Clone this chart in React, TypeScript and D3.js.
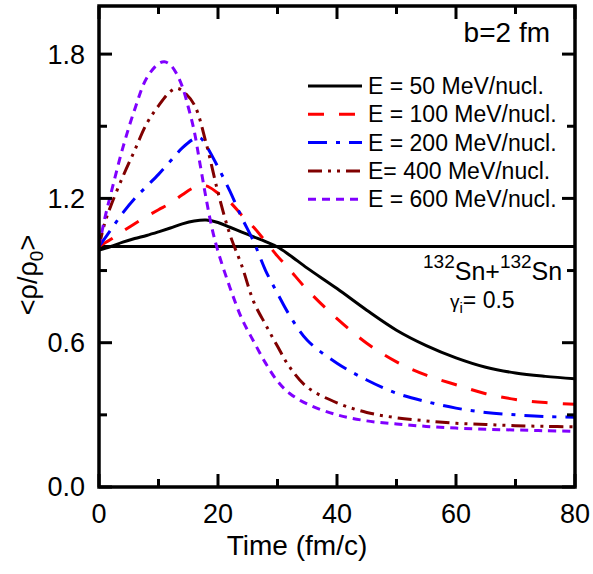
import React from "react";
import * as d3 from "d3";

// ---- data ----
const time50 = [0, 2, 4, 6, 8, 10, 12, 14, 16, 18, 20, 22, 24, 26, 28, 30, 32, 35, 40, 45, 50, 55, 60, 65, 70, 75, 80];
const rho50 = [0.985, 1.0, 1.018, 1.033, 1.046, 1.061, 1.077, 1.094, 1.106, 1.11, 1.1, 1.08, 1.06, 1.04, 1.02, 0.998, 0.965, 0.91, 0.825, 0.735, 0.652, 0.588, 0.537, 0.498, 0.474, 0.46, 0.45];

const time100 = [0, 2, 4, 6, 8, 10, 12, 14, 16, 18, 20, 22, 24, 26, 28, 30, 32, 35, 40, 45, 50, 55, 60, 65, 70, 75, 80];
const rho100 = [1.0, 1.03, 1.063, 1.095, 1.125, 1.153, 1.18, 1.215, 1.245, 1.252, 1.222, 1.185, 1.13, 1.08, 1.02, 0.96, 0.905, 0.82, 0.7, 0.598, 0.52, 0.465, 0.425, 0.388, 0.364, 0.351, 0.344];

const time200 = [0, 2, 4, 6, 8, 10, 12, 14, 16, 17, 18, 20, 22, 24, 26, 28, 30, 32, 35, 40, 45, 50, 55, 60, 65, 70, 75, 80];
const rho200 = [1.0, 1.07, 1.14, 1.2, 1.25, 1.3, 1.355, 1.41, 1.448, 1.452, 1.42, 1.33, 1.23, 1.12, 1.02, 0.9, 0.805, 0.715, 0.61, 0.515, 0.445, 0.39, 0.355, 0.328, 0.31, 0.3, 0.293, 0.29];

const time400 = [0, 1, 2, 4, 6, 8, 10, 12, 13, 14, 16, 18, 20, 22, 24, 26, 28, 30, 32, 35, 40, 45, 50, 55, 60, 65, 70, 75, 80];
const rho400 = [1.0, 1.1, 1.17, 1.29, 1.4, 1.51, 1.585, 1.645, 1.658, 1.648, 1.59, 1.43, 1.225, 1.05, 0.92, 0.77, 0.675, 0.585, 0.5, 0.415, 0.35, 0.31, 0.288, 0.275, 0.265, 0.26, 0.255, 0.252, 0.25];

const time600 = [0, 1, 2, 4, 6, 8, 10, 11, 12, 13, 14, 15, 16, 17, 18, 19, 20, 22, 24, 26, 28, 30, 32, 35, 40, 45, 50, 55, 60, 65, 70, 75, 80];
const rho600 = [1.0, 1.12, 1.22, 1.41, 1.57, 1.7, 1.76, 1.768, 1.755, 1.72, 1.665, 1.58, 1.48, 1.34, 1.2, 1.075, 0.98, 0.83, 0.7, 0.605, 0.515, 0.44, 0.39, 0.345, 0.3, 0.275, 0.262, 0.252, 0.245, 0.24, 0.237, 0.234, 0.232];

const legendLabels = ["E = 50 MeV/nucl.", "E = 100 MeV/nucl.", "E = 200 MeV/nucl.", "E= 400 MeV/nucl.", "E = 600 MeV/nucl."];
const xMajorTicks = [0, 20, 40, 60, 80];
const xMinorTicks = [10, 30, 50, 70];
const yMajorTicks = [0, 0.6, 1.2, 1.8];
const yMinorTicks = [0.3, 0.9, 1.5];

const seriesStyles = [
  { color: "#000000", dash: "none" },
  { color: "#ff0000", dash: "16,15" },
  { color: "#0000ff", dash: "19,9,4,9" },
  { color: "#800000", dash: "14,6,3,6,3,6" },
  { color: "#8000ff", dash: "8,6" },
];

const W = 593;
const H = 574;
const L = 99, R = 575, T = 6, B = 487;

export default function App() {
  const x = d3.scaleLinear().domain([0, 80]).range([L, R]);
  const y = d3.scaleLinear().domain([0, 2]).range([B, T]);
  const line = d3
    .line<[number, number]>()
    .x((d) => x(d[0]))
    .y((d) => y(d[1]))
    .curve(d3.curveCatmullRom.alpha(0.5));

  const series = [
    d3.zip(time50, rho50),
    d3.zip(time100, rho100),
    d3.zip(time200, rho200),
    d3.zip(time400, rho400),
    d3.zip(time600, rho600),
  ] as [number, number][][];

  const font = "'Liberation Sans', Arial, Helvetica, sans-serif";
  const majorLen = 13;
  const minorLen = 8;
  const axisW = 3.5;

  const legY0 = 86;
  const legDy = 28.3;

  return (
    <svg width={W} height={H} style={{ position: "absolute", left: 0, top: 0, background: "#fff" }} fontFamily={font}>
      <rect x={0} y={0} width={W} height={H} fill="#fff" />
      <defs>
        <clipPath id="plotclip">
          <rect x={L} y={T} width={R - L} height={B - T} />
        </clipPath>
      </defs>

      {/* reference line at 1.0 */}
      <line x1={L} x2={R} y1={y(1)} y2={y(1)} stroke="#000" strokeWidth={3} />

      {/* curves */}
      <g clipPath="url(#plotclip)">
        {series.map((s, i) => (
          <path
            key={i}
            d={line(s) || ""}
            fill="none"
            stroke={seriesStyles[i].color}
            strokeWidth={3}
            strokeDasharray={seriesStyles[i].dash}
          />
        ))}
      </g>

      {/* ticks */}
      {xMajorTicks.map((t) => (
        <g key={"xM" + t}>
          <line x1={x(t)} x2={x(t)} y1={B} y2={B - majorLen} stroke="#000" strokeWidth={3} />
          <line x1={x(t)} x2={x(t)} y1={T} y2={T + majorLen} stroke="#000" strokeWidth={3} />
          <text x={x(t)} y={523} textAnchor="middle" fontSize={27}>{t}</text>
        </g>
      ))}
      {xMinorTicks.map((t) => (
        <g key={"xm" + t}>
          <line x1={x(t)} x2={x(t)} y1={B} y2={B - minorLen} stroke="#000" strokeWidth={3} />
          <line x1={x(t)} x2={x(t)} y1={T} y2={T + minorLen} stroke="#000" strokeWidth={3} />
        </g>
      ))}
      {yMajorTicks.map((t) => (
        <g key={"yM" + t}>
          <line x1={L} x2={L + majorLen} y1={y(t)} y2={y(t)} stroke="#000" strokeWidth={3} />
          <line x1={R} x2={R - majorLen} y1={y(t)} y2={y(t)} stroke="#000" strokeWidth={3} />
          <text x={85} y={y(t)} dy="0.35em" textAnchor="end" fontSize={27}>{t.toFixed(1)}</text>
        </g>
      ))}
      {yMinorTicks.map((t) => (
        <g key={"ym" + t}>
          <line x1={L} x2={L + minorLen} y1={y(t)} y2={y(t)} stroke="#000" strokeWidth={3} />
          <line x1={R} x2={R - minorLen} y1={y(t)} y2={y(t)} stroke="#000" strokeWidth={3} />
        </g>
      ))}

      {/* frame */}
      <rect x={L} y={T} width={R - L} height={B - T} fill="none" stroke="#000" strokeWidth={axisW} />

      {/* axis titles */}
      <text x={297} y={555} textAnchor="middle" fontSize={28}>Time (fm/c)</text>
      <text transform="translate(37,275) rotate(-90)" textAnchor="middle" fontSize={27}>
        {"<ρ/ρ"}
        <tspan fontSize={19} dy={6}>0</tspan>
        <tspan dy={-6}>{">"}</tspan>
      </text>

      {/* annotations */}
      <text x={550} y={42} textAnchor="end" fontSize={28}>b=2 fm</text>

      {legendLabels.map((lab, i) => (
        <g key={"leg" + i}>
          <line
            x1={308}
            x2={362}
            y1={legY0 + i * legDy}
            y2={legY0 + i * legDy}
            stroke={seriesStyles[i].color}
            strokeWidth={3}
            strokeDasharray={seriesStyles[i].dash}
          />
          <text x={368} y={legY0 + i * legDy} dy="0.35em" fontSize={23}>{lab}</text>
        </g>
      ))}

      <text x={423} y={280} fontSize={25}>
        <tspan fontSize={19} dy={-12}>132</tspan>
        <tspan dy={12}>Sn+</tspan>
        <tspan fontSize={19} dy={-12}>132</tspan>
        <tspan dy={12}>Sn</tspan>
      </text>
      <text x={450} y={308} fontSize={23}>
        <tspan fontSize={19}>γ</tspan>
        <tspan fontSize={15} dy={5}>i</tspan>
        <tspan dy={-5}>= 0.5</tspan>
      </text>
    </svg>
  );
}
